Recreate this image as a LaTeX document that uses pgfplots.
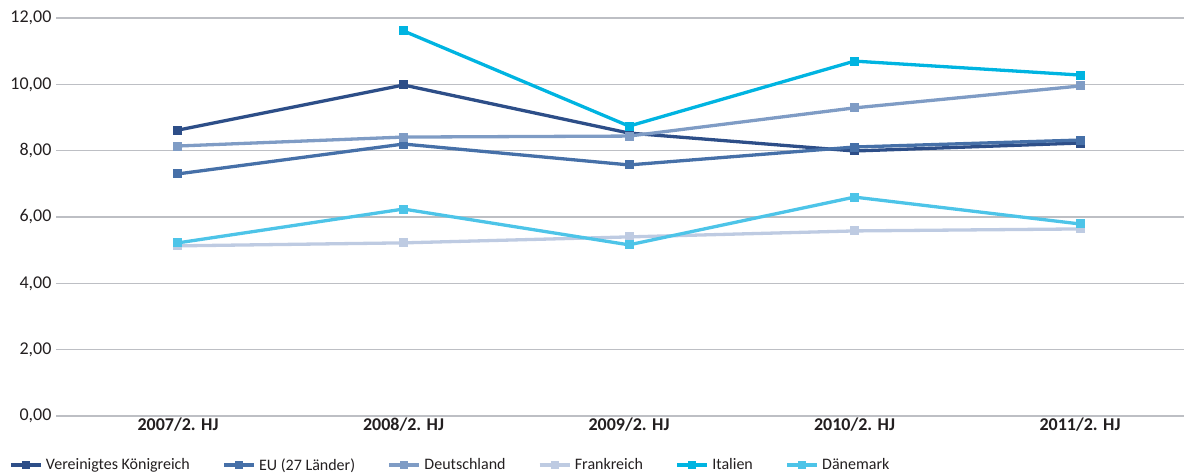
\documentclass[border=0pt]{standalone}
\usepackage{pgfplots}
\pgfplotsset{compat=1.18}
\usepackage{fontspec}
\setmainfont{Carlito}
\definecolor{cUK}{HTML}{2D4E88}
\definecolor{cEU}{HTML}{4670A8}
\definecolor{cDE}{HTML}{7F9CC5}
\definecolor{cFR}{HTML}{BECBE2}
\definecolor{cIT}{HTML}{00B4E1}
\definecolor{cDK}{HTML}{4DC4E8}
\definecolor{gridc}{HTML}{BDBFC4}
\definecolor{txt}{HTML}{231F20}
\begin{document}
\begin{tikzpicture}
\useasboundingbox (-56bp,-57bp) rectangle (1128bp,416bp);
\begin{axis}[
  scale only axis,
  width=1128bp, height=398bp,
  xmin=-0.541, xmax=4.461,
  ymin=0, ymax=12,
  xtick={0,1,2,3,4},
  xticklabels={2007/2. HJ,2008/2. HJ,2009/2. HJ,2010/2. HJ,2011/2. HJ},
  x tick label style={font=\fontsize{18bp}{20bp}\selectfont\bfseries, text=txt, yshift=2bp},
  ytick={0,2,4,6,8,10,12},
  y tick label style={font=\fontsize{18bp}{20bp}\selectfont, text=txt, xshift=-1bp},
  /pgf/number format/.cd, fixed, fixed zerofill, precision=2, use comma, assume math mode=true,
  /pgfplots/.cd,
  axis line style={draw=none},
  tick style={draw=none},
  ymajorgrids,
  major grid style={gridc, line width=1.6bp},
  legend columns=6,
  legend style={draw=none, at={(rel axis cs:0,0)}, anchor=west, xshift=-47bp, yshift=-49bp,
    font=\fontsize{16bp}{18bp}\selectfont, text=txt, inner sep=0pt,
    nodes={inner sep=3.5bp}},
  /tikz/every even column/.append style={column sep=29bp},
  legend image code/.code={
    \draw[mark repeat=2, mark phase=2, #1, mark size=3.6bp] plot coordinates {(0bp,0bp) (15bp,0bp) (30bp,0bp)};
  },
]
\addplot[cUK, line width=3.3bp, mark=square*, mark size=4bp, mark options={solid, fill=cUK, line width=0pt}] coordinates {(0,8.62) (1,9.98) (2,8.53) (3,7.99) (4,8.23)};
\addlegendentry{Vereinigtes Königreich}
\addplot[cEU, line width=3.3bp, mark=square*, mark size=4bp, mark options={solid, fill=cEU, line width=0pt}] coordinates {(0,7.30) (1,8.20) (2,7.57) (3,8.11) (4,8.32)};
\addlegendentry{EU (27 Länder)}
\addplot[cDE, line width=3.3bp, mark=square*, mark size=4bp, mark options={solid, fill=cDE, line width=0pt}] coordinates {(0,8.14) (1,8.41) (2,8.44) (3,9.29) (4,9.95)};
\addlegendentry{Deutschland}
\addplot[cFR, line width=3.3bp, mark=square*, mark size=4bp, mark options={solid, fill=cFR, line width=0pt}] coordinates {(0,5.13) (1,5.22) (2,5.40) (3,5.58) (4,5.64)};
\addlegendentry{Frankreich}
\addplot[cIT, line width=3.3bp, mark=square*, mark size=4bp, mark options={solid, fill=cIT, line width=0pt}] coordinates {(1,11.61) (2,8.74) (3,10.70) (4,10.28)};
\addlegendentry{Italien}
\addplot[cDK, line width=3.3bp, mark=square*, mark size=4bp, mark options={solid, fill=cDK, line width=0pt}] coordinates {(0,5.22) (1,6.24) (2,5.16) (3,6.60) (4,5.79)};
\addlegendentry{Dänemark}
\end{axis}
\end{tikzpicture}
\end{document}
